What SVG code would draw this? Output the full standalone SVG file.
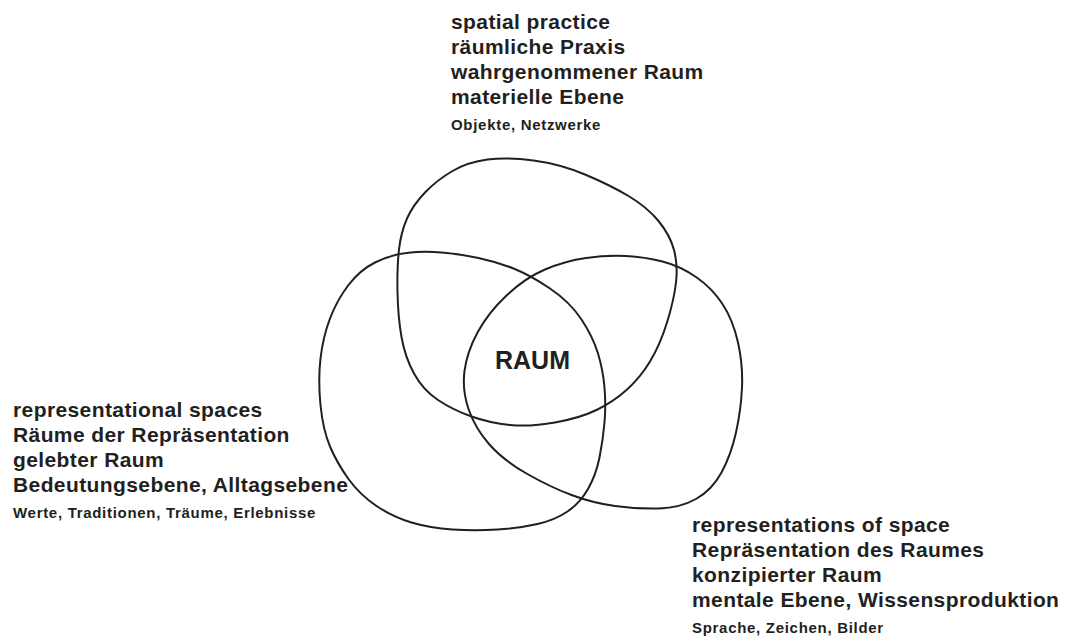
<svg xmlns="http://www.w3.org/2000/svg" width="1067" height="641" viewBox="0 0 1067 641">
<style>
.blob{fill:none;stroke:#231f20;stroke-width:2;stroke-linejoin:round}
.t{font-family:"Liberation Sans",Arial,Helvetica,sans-serif;font-weight:bold;fill:#231f20}
.big{font-size:21px;letter-spacing:0.4px}
.small{font-size:15px;letter-spacing:0.7px}
.core{font-size:25px}
</style>
<rect width="1067" height="641" fill="#ffffff"/>
<g id="spatial-practice">
<path class="blob" d="M487.5,159.5 Q507,157 533.5,160.5 Q560,164 585,174.5 Q610,185 628.5,196 Q647,207 658.5,221 Q670,235 674,250 Q678,265 676,282.5 Q674,300 667,322.5 Q660,345 650,361.5 Q640,378 626.5,390 Q613,402 596.5,410 Q580,418 555,422.5 Q530,427 510,425 Q490,423 471.5,416.5 Q453,410 438,400 Q423,390 414,373.5 Q405,357 401.5,337 Q398,317 397.5,292 Q397,267 399,249.5 Q401,232 407,218.5 Q413,205 425,192.5 Q437,180 452.5,171 Q468,162 487.5,159.5 Z"/>
<text class="t big" x="451" y="29">spatial practice</text>
<text class="t big" x="451" y="54">räumliche Praxis</text>
<text class="t big" x="451" y="79">wahrgenommener Raum</text>
<text class="t big" x="451" y="104">materielle Ebene</text>
<text class="t small" x="451" y="130">Objekte, Netzwerke</text>
</g>
<g id="representational-spaces">
<path class="blob" d="M406.5,253 Q423,251 441.5,252.5 Q460,254 478.5,258 Q497,262 513.5,268.5 Q530,275 550,288.5 Q570,302 581.5,319.5 Q593,337 598,353.5 Q603,370 604.5,387.5 Q606,405 604.5,422.5 Q603,440 599.5,457.5 Q596,475 588,489 Q580,503 567.5,511.5 Q555,520 537.5,524 Q520,528 497.5,529.5 Q475,531 452.5,529.5 Q430,528 411.5,522.5 Q393,517 376.5,506 Q360,495 348.5,479 Q337,463 330,446.5 Q323,430 320.5,405 Q318,380 320.5,358.5 Q323,337 330,318.5 Q337,300 348.5,285 Q360,270 375,262.5 Q390,255 406.5,253 Z"/>
<text class="t big" x="13" y="417">representational spaces</text>
<text class="t big" x="13" y="442">Räume der Repräsentation</text>
<text class="t big" x="13" y="467">gelebter Raum</text>
<text class="t big" x="13" y="492">Bedeutungsebene, Alltagsebene</text>
<text class="t small" x="13" y="518">Werte, Traditionen, Träume, Erlebnisse</text>
</g>
<g id="representations-of-space">
<path class="blob" d="M586,258 Q607,255 626,256 Q645,257 662.5,261.5 Q680,266 696,277 Q712,288 722.5,304 Q733,320 738,342.5 Q743,365 742,387.5 Q741,410 736,432.5 Q731,455 721.5,472.5 Q712,490 696,499 Q680,508 658.5,508.5 Q637,509 615,506 Q593,503 571.5,495 Q550,487 526.5,473.5 Q503,460 489,444 Q475,428 468.5,409 Q462,390 464.5,371 Q467,352 477.5,332.5 Q488,313 506.5,295.5 Q525,278 545,269.5 Q565,261 586,258 Z"/>
<text class="t big" x="692" y="532">representations of space</text>
<text class="t big" x="692" y="557">Repräsentation des Raumes</text>
<text class="t big" x="692" y="582">konzipierter Raum</text>
<text class="t big" x="692" y="607">mentale Ebene, Wissensproduktion</text>
<text class="t small" x="692" y="633">Sprache, Zeichen, Bilder</text>
</g>
<g id="raum">
<text class="t core" x="495" y="369">RAUM</text>
</g>
</svg>
